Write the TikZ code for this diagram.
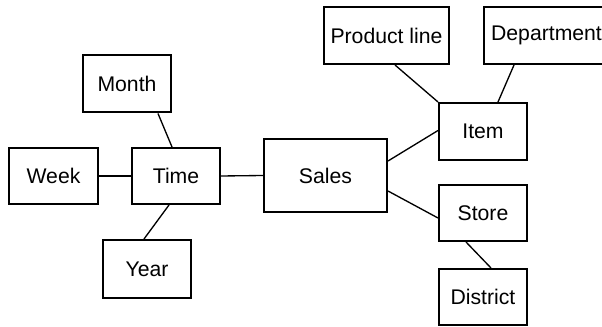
\documentclass[tikz,border=0pt]{standalone}
\usepackage{fontspec}
\setmainfont{Liberation Sans}
\newlength\pxu
\setlength\pxu{0.75pt}
\begin{document}
\begin{tikzpicture}[x=0.75pt,y=-0.75pt,
  dimbox/.style={draw=black,line width=1.5pt,inner sep=0pt,align=center,
    font=\fontsize{15.9}{18}\selectfont},
  link/.style={draw=black,line width=1pt}]
\useasboundingbox (0,0) rectangle (602,327);
\clip (0,0) rectangle (602,327);
\node[dimbox,minimum width=88\pxu,minimum height=57\pxu] (month) at (127,84) {Month};
\node[dimbox,minimum width=89\pxu,minimum height=56\pxu] (week) at (53.5,176) {Week};
\node[dimbox,minimum width=88\pxu,minimum height=56\pxu] (time) at (176,176) {Time};
\node[dimbox,minimum width=88\pxu,minimum height=58\pxu] (year) at (147,269) {Year};
\node[dimbox,minimum width=123\pxu,minimum height=73\pxu] (sales) at (325.5,175.5) {Sales};
\node[dimbox,minimum width=125\pxu,minimum height=57\pxu] (pline) at (386.5,35.5) {Product line};
\node[dimbox,minimum width=125\pxu,minimum height=57\pxu,anchor=west] (dept) at (483,35.5) {Department};
\node[dimbox,minimum width=88\pxu,minimum height=57\pxu] (item) at (483,131.5) {Item};
\node[dimbox,minimum width=88\pxu,minimum height=56\pxu] (store) at (483,213) {Store};
\node[dimbox,minimum width=88\pxu,minimum height=56\pxu] (district) at (483,297) {District};
\draw[link] ([xshift=31\pxu]month.south) -- ([xshift=-4\pxu]time.north);
\draw[link] (week.east) -- (time.west);
\draw[link] (time.east) -- (sales.west);
\draw[link] ([xshift=-7\pxu]time.south) -- ([xshift=-3\pxu]year.north);
\draw[link] ([yshift=14.5\pxu]sales.east) -- ([yshift=1\pxu]item.west);
\draw[link] ([yshift=-15.5\pxu]sales.east) -- ([yshift=-5\pxu]store.west);
\draw[link] ([xshift=8.5\pxu]pline.south) -- (item.north west);
\draw[link] ([xshift=31\pxu]dept.south west) -- ([xshift=15\pxu]item.north);
\draw[link] ([xshift=-17\pxu]store.south) -- ([xshift=8\pxu]district.north);
\end{tikzpicture}
\end{document}
